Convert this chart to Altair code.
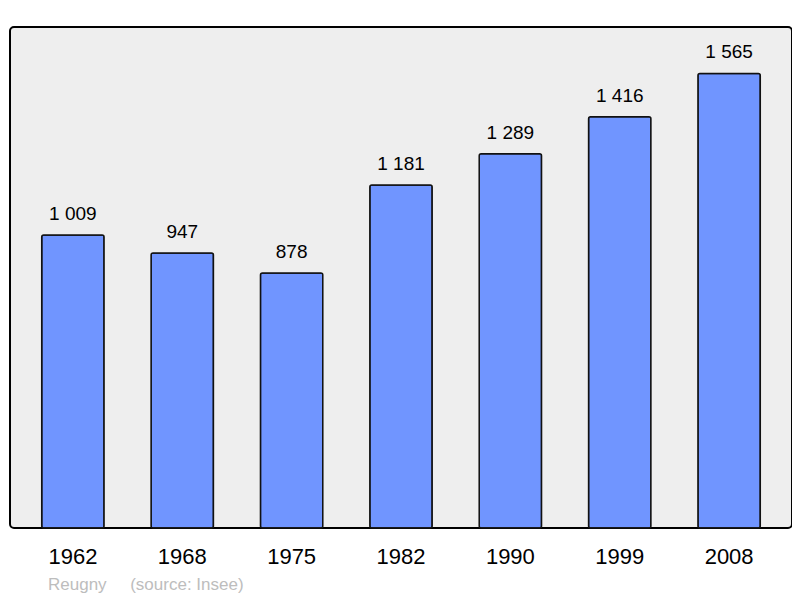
import altair as alt
import pandas as pd

years = ["1962", "1968", "1975", "1982", "1990", "1999", "2008"]
population = [1009, 947, 878, 1181, 1289, 1416, 1565]
labels = ["1 009", "947", "878", "1 181", "1 289", "1 416", "1 565"]
footer = "Reugny\u00a0\u00a0\u00a0\u00a0\u00a0(source: Insee)"

df = pd.DataFrame({"year": years, "pop": population, "label": labels})

FONT = "Liberation Sans"

x = alt.X("year:N", sort=years,
          scale=alt.Scale(paddingInner=0.43, paddingOuter=0.29),
          axis=alt.Axis(title=None, labelAngle=0, ticks=False, domain=False,
                        labelPadding=18, labelFontSize=22, labelColor="#000000",
                        labelFont=FONT, grid=False))
y = alt.Y("pop:Q", scale=alt.Scale(domain=[0, 1725], nice=False, zero=True),
          axis=None)

bars = alt.Chart(df).mark_bar(
    color="#7095ff", stroke="#111111", strokeWidth=1.5, cornerRadius=2
).encode(x=x, y=y)

text = alt.Chart(df).mark_text(
    baseline="alphabetic", dy=-15, fontSize=19, font=FONT, color="#000000"
).encode(x=x, y=y, text="label:N")

chart = (bars + text).properties(
    width=782, height=501,
    padding={"left": 2, "top": 19, "right": 0, "bottom": 68},
    autosize=alt.AutoSizeParams(type="none"),
    background="#ffffff",
    title=alt.TitleParams(footer, orient="bottom", anchor="start", dx=38,
                          offset=10, fontSize=17, font=FONT, color="#bdbdbd",
                          fontWeight="normal"),
).configure_view(
    fill="#eeeeee", stroke="#000000", strokeWidth=2, cornerRadius=4
)

chart.save("out.html", embed_options={"renderer": "svg", "actions": False})
